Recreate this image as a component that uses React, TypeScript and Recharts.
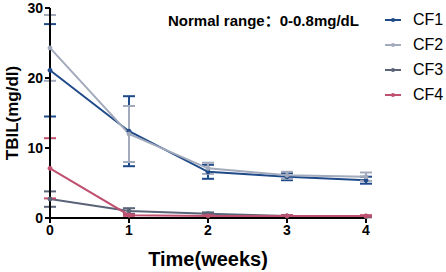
import React from "react";
import { LineChart, Line, XAxis, YAxis, ErrorBar, Legend } from "recharts";

const weeks = [0, 1, 2, 3, 4];
const seriesNames = ["CF1", "CF2", "CF3", "CF4"];
const cf1 = [21.1, 12.4, 6.6, 5.9, 5.4];
const cf1Err = [6.6, 5.0, 1.0, 0.5, 0.5];
const cf2 = [24.3, 12.0, 7.1, 6.1, 5.9];
const cf2Err = [4.7, 4.0, 0.8, 0.5, 0.6];
const cf3 = [2.7, 1.0, 0.6, 0.3, 0.2];
const cf3Err = [1.1, 0.4, 0.2, 0.1, 0.1];
const cf4 = [7.1, 0.4, 0.3, 0.3, 0.3];
const cf4Err = [4.3, 0.1, 0.1, 0.1, 0.1];
const yTicks = [0, 10, 20, 30];
const colors = ["#1f4a8a", "#a2aabc", "#5a6378", "#c0506f"];

const data = weeks.map((w, i) => ({
  week: w,
  CF1: cf1[i], CF1e: cf1Err[i],
  CF2: cf2[i], CF2e: cf2Err[i],
  CF3: cf3[i], CF3e: cf3Err[i],
  CF4: cf4[i], CF4e: cf4Err[i],
}));

const font = "'Liberation Sans', Arial, 'Noto Sans CJK SC', sans-serif";

const LegendContent = () => (
  <div style={{ fontFamily: font, fontSize: 16, color: "#000", lineHeight: "25px" }}>
    {seriesNames.map((n, i) => (
      <div key={n} style={{ display: "flex", alignItems: "center", height: 25 }}>
        <svg width={16} height={8} style={{ marginRight: 12 }}>
          <line x1={0} y1={4} x2={16} y2={4} stroke={colors[i]} strokeWidth={2} />
          <circle cx={8} cy={4} r={2} fill={colors[i]} />
        </svg>
        <span>{n}</span>
      </div>
    ))}
  </div>
);

export default function App() {
  return (
    <div style={{ position: "absolute", left: 0, top: 0, width: 446, height: 272, background: "#fff" }}>
      <LineChart width={446} height={272} data={data} margin={{ top: 8, right: 20, left: 0, bottom: 0 }}>
        <XAxis
          dataKey="week"
          type="number"
          domain={[0, 4]}
          ticks={weeks}
          height={54}
          axisLine={{ stroke: "#000", strokeWidth: 2 }}
          tickLine={{ stroke: "#000", strokeWidth: 2 }}
          tickSize={5}
          tick={{ fill: "#000", fontSize: 14, fontWeight: "bold", fontFamily: font }}
          label={{ value: "Time(weeks)", position: "insideBottom", offset: 6, fill: "#000", fontSize: 20, fontWeight: "bold", fontFamily: font }}
        />
        <YAxis
          type="number"
          domain={[0, 30]}
          ticks={yTicks}
          width={50}
          axisLine={{ stroke: "#000", strokeWidth: 2 }}
          tickLine={{ stroke: "#000", strokeWidth: 2 }}
          tickSize={5}
          tick={{ fill: "#000", fontSize: 14, fontWeight: "bold", fontFamily: font }}
          label={{ value: "TBIL(mg/dl)", angle: -90, position: "insideLeft", offset: 12, fill: "#000", fontSize: 17, fontWeight: "bold", fontFamily: font, style: { textAnchor: "middle" } }}
        />
        <Legend
          layout="vertical"
          verticalAlign="top"
          align="right"
          content={LegendContent}
          wrapperStyle={{ position: "absolute", left: 385, top: 7, width: 60 }}
        />
        {seriesNames.map((n, i) => (
          <Line
            key={n}
            dataKey={n}
            stroke={colors[i]}
            strokeWidth={2}
            dot={{ r: 2, fill: colors[i], stroke: colors[i], strokeWidth: 1 }}
            isAnimationActive={false}
          >
            <ErrorBar dataKey={n + "e"} width={6} stroke={colors[i]} strokeWidth={2} direction="y" />
          </Line>
        ))}
      </LineChart>
      <div
        style={{
          position: "absolute",
          left: 168,
          top: 9,
          fontFamily: font,
          fontSize: 15,
          fontWeight: "bold",
          color: "#000",
          whiteSpace: "nowrap",
        }}
      >
        Normal range：0-0.8mg/dL
      </div>
    </div>
  );
}
